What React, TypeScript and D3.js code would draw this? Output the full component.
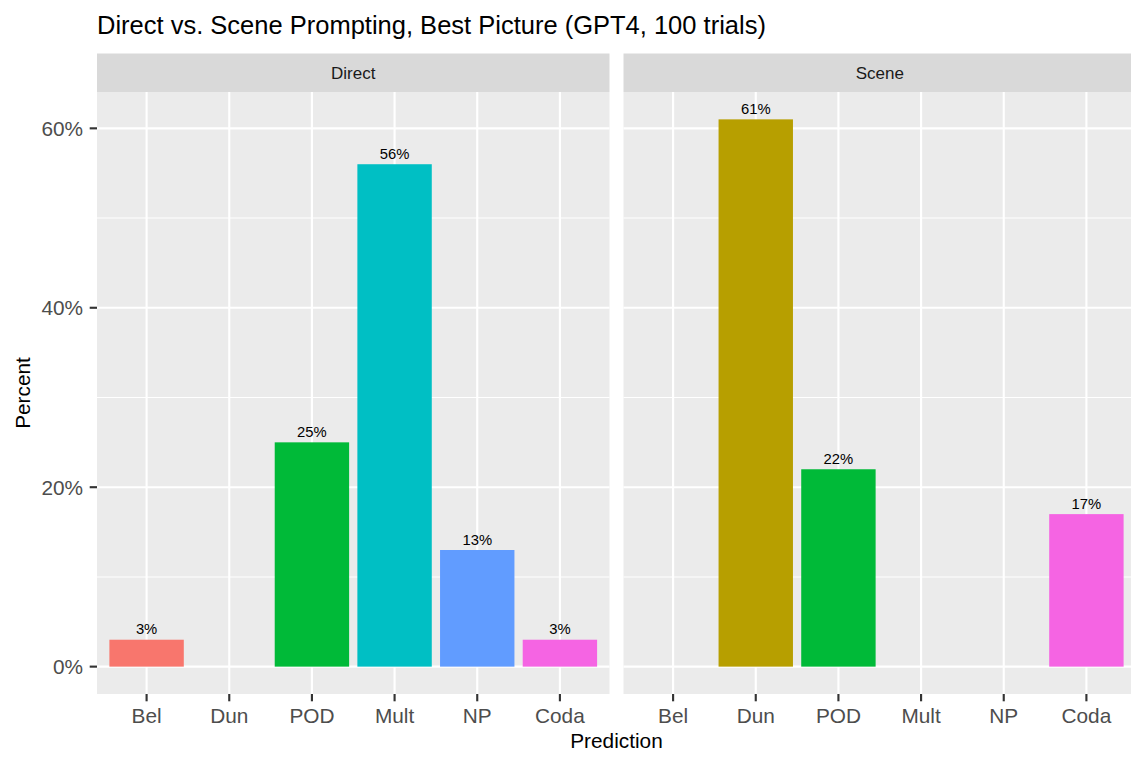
import React from "react";
import * as d3 from "d3";

const categories = ["Bel", "Dun", "POD", "Mult", "NP", "Coda"];
const facets = ["Direct", "Scene"];
const directValues = [3, 0, 25, 56, 13, 3];
const sceneValues = [0, 61, 22, 0, 0, 17];
const yTicks = [0, 20, 40, 60];
const yMinor = [10, 30, 50];
const colors = ["#F8766D", "#B79F00", "#00BA38", "#00BFC4", "#619CFF", "#F564E3"];
const title = "Direct vs. Scene Prompting, Best Picture (GPT4, 100 trials)";

const W = 1131;
const H = 758;
const FONT = "'Liberation Sans', Arial, Helvetica, sans-serif";

export default function App() {
  const panelTop = 92;
  const panelBottom = 694;
  const stripTop = 53.5;
  const panels = [
    { name: facets[0], x0: 97, x1: 609.5, values: directValues },
    { name: facets[1], x0: 623.5, x1: 1136, values: sceneValues },
  ];
  const maxV = d3.max([...directValues, ...sceneValues]) as number;
  const pad = maxV * 0.05;
  const y = d3.scaleLinear().domain([-pad, maxV + pad]).range([panelBottom, panelTop]);

  return (
    <svg
      width={W}
      height={H}
      style={{ position: "absolute", left: 0, top: 0, background: "#fff" }}
      fontFamily={FONT}
    >
      <rect x={0} y={0} width={W} height={H} fill="#fff" />
      <text x={97} y={33.5} fontSize={25.5} fill="#000">
        {title}
      </text>
      {panels.map((p, pi) => {
        const x = d3.scalePoint<string>().domain(categories).range([p.x0, p.x1]).padding(0.6);
        const bw = x.step() * 0.9;
        return (
          <g key={p.name}>
            <rect x={p.x0} y={stripTop} width={p.x1 - p.x0} height={panelTop - stripTop} fill="#D9D9D9" />
            <text x={(p.x0 + p.x1) / 2} y={79} fontSize={17} fill="#1A1A1A" textAnchor="middle">
              {p.name}
            </text>
            <rect x={p.x0} y={panelTop} width={p.x1 - p.x0} height={panelBottom - panelTop} fill="#EBEBEB" />
            {yMinor.map((t) => (
              <line key={"mi" + t} x1={p.x0} x2={p.x1} y1={y(t)} y2={y(t)} stroke="#fff" strokeWidth={1.07} />
            ))}
            {yTicks.map((t) => (
              <line key={"ma" + t} x1={p.x0} x2={p.x1} y1={y(t)} y2={y(t)} stroke="#fff" strokeWidth={2.13} />
            ))}
            {categories.map((c) => (
              <line key={"v" + c} x1={x(c)} x2={x(c)} y1={panelTop} y2={panelBottom} stroke="#fff" strokeWidth={2.13} />
            ))}
            {categories.map((c, i) =>
              p.values[i] > 0 ? (
                <g key={"b" + c}>
                  <rect
                    x={(x(c) as number) - bw / 2}
                    y={y(p.values[i])}
                    width={bw}
                    height={y(0) - y(p.values[i])}
                    fill={colors[i]}
                  />
                  <text x={x(c)} y={y(p.values[i]) - 5.5} fontSize={14.8} fill="#000" textAnchor="middle">
                    {p.values[i] + "%"}
                  </text>
                </g>
              ) : null
            )}
            {categories.map((c) => (
              <g key={"xt" + c}>
                <line x1={x(c)} x2={x(c)} y1={panelBottom} y2={panelBottom + 7.3} stroke="#333333" strokeWidth={2.13} />
                <text x={x(c)} y={722.5} fontSize={20.8} fill="#4D4D4D" textAnchor="middle">
                  {c}
                </text>
              </g>
            ))}
            {pi === 0 &&
              yTicks.map((t) => (
                <g key={"yt" + t}>
                  <line x1={p.x0 - 7.3} x2={p.x0} y1={y(t)} y2={y(t)} stroke="#333333" strokeWidth={2.13} />
                  <text x={83} y={y(t)} dy="0.36em" fontSize={20.8} fill="#4D4D4D" textAnchor="end">
                    {t + "%"}
                  </text>
                </g>
              ))}
          </g>
        );
      })}
      <text x={616.5} y={748} fontSize={20.8} fill="#000" textAnchor="middle">
        Prediction
      </text>
      <text
        transform={`translate(30,${(panelTop + panelBottom) / 2}) rotate(-90)`}
        fontSize={20.8}
        fill="#000"
        textAnchor="middle"
      >
        Percent
      </text>
    </svg>
  );
}
